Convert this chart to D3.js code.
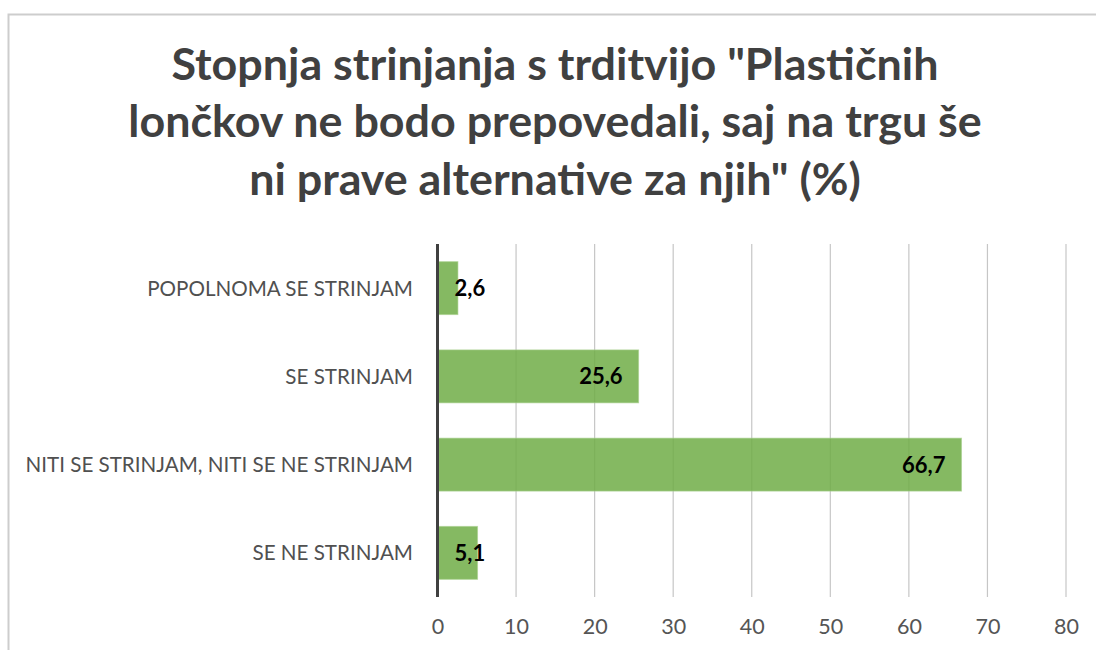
<!DOCTYPE html>
<html>
<head>
<meta charset="utf-8">
<script src="https://cdn.jsdelivr.net/npm/d3@7"></script>
<style>
  html, body { margin: 0; padding: 0; background: #fff; }
  svg { display: block; }
</style>
</head>
<body>
<svg id="chart" width="1096" height="650"></svg>
<script>
const titleLines = [
  "Stopnja strinjanja s trditvijo \"Plastičnih",
  "lončkov ne bodo prepovedali, saj na trgu še",
  "ni prave alternative za njih\" (%)"
];
const categories = [
  "POPOLNOMA SE STRINJAM",
  "SE STRINJAM",
  "NITI SE STRINJAM, NITI SE NE STRINJAM",
  "SE NE STRINJAM"
];
const values = [2.6, 25.6, 66.7, 5.1];
const tickValues = [0, 10, 20, 30, 40, 50, 60, 70, 80];

const fmt = v => String(v).replace(".", ",");

const svg = d3.select("#chart");
const FONT = "Lato, 'Open Sans', sans-serif";

// chart frame
svg.append("rect")
  .attr("x", 8.5).attr("y", 14.5)
  .attr("width", 1200).attr("height", 800)
  .attr("fill", "#fff")
  .attr("stroke", "#cdcdcd").attr("stroke-width", 2);

// title
const titleCx = 555;
const titleBaselines = [80, 137, 195];
const titleTargetW = [772, 845, 614];
const tTmp = svg.append("text").attr("font-family", FONT).attr("font-weight", 700).attr("font-size", 40);
let ratio = 0;
titleLines.forEach((l, i) => { tTmp.text(l); ratio += titleTargetW[i] / tTmp.node().getComputedTextLength(); });
tTmp.remove();
const titleSize = 40 * ratio / titleLines.length;

svg.append("g").selectAll("text").data(titleLines).join("text")
  .attr("x", titleCx)
  .attr("y", (d, i) => titleBaselines[i])
  .attr("text-anchor", "middle")
  .attr("font-family", FONT).attr("font-weight", 700)
  .attr("font-size", titleSize)
  .attr("fill", "#404040")
  .text(d => d);

// scales
const x = d3.scaleLinear().domain([0, 80]).range([437.5, 1066]);
const y = d3.scaleBand().domain(categories).range([244, 597]).paddingInner(0.4).paddingOuter(0.2);

// gridlines
svg.append("g").selectAll("line").data(tickValues.filter(t => t > 0)).join("line")
  .attr("x1", d => x(d)).attr("x2", d => x(d))
  .attr("y1", 244).attr("y2", 597)
  .attr("stroke", "#c6c6c6").attr("stroke-width", 1.2);

// bars
svg.append("g").selectAll("rect").data(values).join("rect")
  .attr("x", x(0))
  .attr("y", (d, i) => y(categories[i]))
  .attr("width", d => x(d) - x(0))
  .attr("height", y.bandwidth())
  .attr("fill", "#70ad47").attr("fill-opacity", 0.85)
  .attr("stroke", "#a9d08e").attr("stroke-width", 1).attr("stroke-opacity", 0.6);

// zero axis line
svg.append("line")
  .attr("x1", x(0)).attr("x2", x(0))
  .attr("y1", 244).attr("y2", 597)
  .attr("stroke", "#404040").attr("stroke-width", 3);

// category labels
const catSize = 20.6;
svg.append("g").selectAll("text").data(categories).join("text")
  .attr("x", 413)
  .attr("y", d => y(d) + y.bandwidth() / 2 + catSize * 0.36)
  .attr("text-anchor", "end")
  .attr("font-family", FONT).attr("font-size", catSize)
  .attr("fill", "#505050")
  .text(d => d);

// tick labels via axis
const axis = d3.axisBottom(x).tickValues(tickValues).tickSize(0).tickPadding(0).tickFormat(d => d);
const ax = svg.append("g").attr("transform", "translate(0,619)").call(axis);
ax.select(".domain").remove();
ax.selectAll("text")
  .attr("font-family", FONT).attr("font-size", 21.5)
  .attr("fill", "#555").attr("dy", "0.71em");

// data labels
const lblSize = 22;
const lbls = svg.append("g").selectAll("text").data(values).join("text")
  .attr("font-family", FONT).attr("font-weight", 700).attr("font-size", lblSize)
  .attr("fill", "#000")
  .attr("text-anchor", "end")
  .attr("y", (d, i) => y(categories[i]) + y.bandwidth() / 2 + lblSize * 0.36)
  .text(d => fmt(d));
lbls.attr("x", function(d) {
  const w = this.getComputedTextLength();
  return Math.max(x(d) - 16, x(0) + 17 + w);
});
</script>
</body>
</html>
